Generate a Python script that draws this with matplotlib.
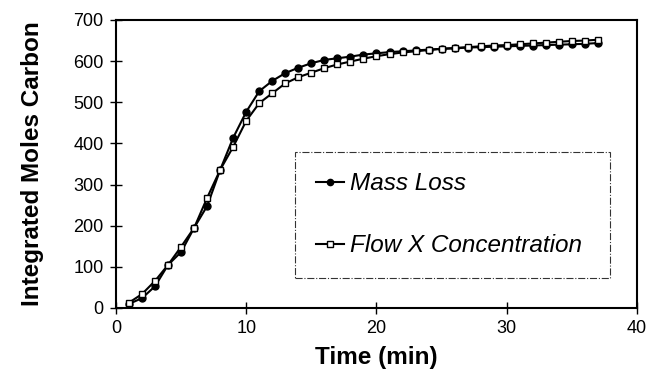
import matplotlib
matplotlib.use('Agg')
import matplotlib.pyplot as plt

plt.rcParams['font.family'] = ['Liberation Sans', 'DejaVu Sans']

time_min = list(range(1, 38))
mass_loss = [10, 24, 53, 105, 136, 195, 248, 336, 414, 477, 527, 552, 571, 584, 595,
             603, 607, 611, 616, 619, 622, 624, 626, 628, 630, 631, 633, 634, 635, 636,
             637, 638, 639, 640, 641, 642, 644]
flow_x_conc = [13, 34, 66, 105, 149, 195, 268, 336, 392, 455, 498, 522, 546, 561, 572,
               583, 592, 599, 606, 612, 617, 621, 624, 627, 630, 632, 634, 636, 638, 639,
               641, 643, 645, 647, 649, 650, 652]

fig = plt.figure(figsize=(6.46, 3.78), dpi=100)
ax = fig.add_axes([0.1796, 0.1852, 0.8064, 0.7619])

ax.plot(time_min, mass_loss, color='black', lw=1.5, marker='o', ms=5,
        mfc='black', mec='black', label='Mass Loss')
ax.plot(time_min, flow_x_conc, color='black', lw=1.5, marker='s', ms=5,
        mfc='white', mec='black', mew=1.0, label='Flow X Concentration')

ax.set_xlim(0, 40)
ax.set_ylim(0, 700)
ax.set_xticks([0, 10, 20, 30, 40])
ax.set_yticks(range(0, 701, 100))
ax.tick_params(direction='inout', length=8, width=1, labelsize=13, colors='black', pad=5)
for s in ax.spines.values():
    s.set_linewidth(1.5)

ax.set_xlabel('Time (min)', fontsize=17.5, fontweight='bold', labelpad=6)
ax.set_ylabel('Integrated Moles Carbon', fontsize=17.5, fontweight='bold', labelpad=21)

leg = ax.legend(loc='lower left', bbox_to_anchor=(0.344, 0.104, 0.604, 0.427),
                mode='expand', handlelength=1.15, handletextpad=0.25,
                labelspacing=1.6, borderpad=0.85, borderaxespad=0, fancybox=False,
                markerscale=0.9, prop={'style': 'italic', 'size': 17.5})
leg.get_frame().set_edgecolor('black')
leg.get_frame().set_linestyle('-.')
leg.get_frame().set_linewidth(0.8)

fig.savefig('out.png', dpi=100)
